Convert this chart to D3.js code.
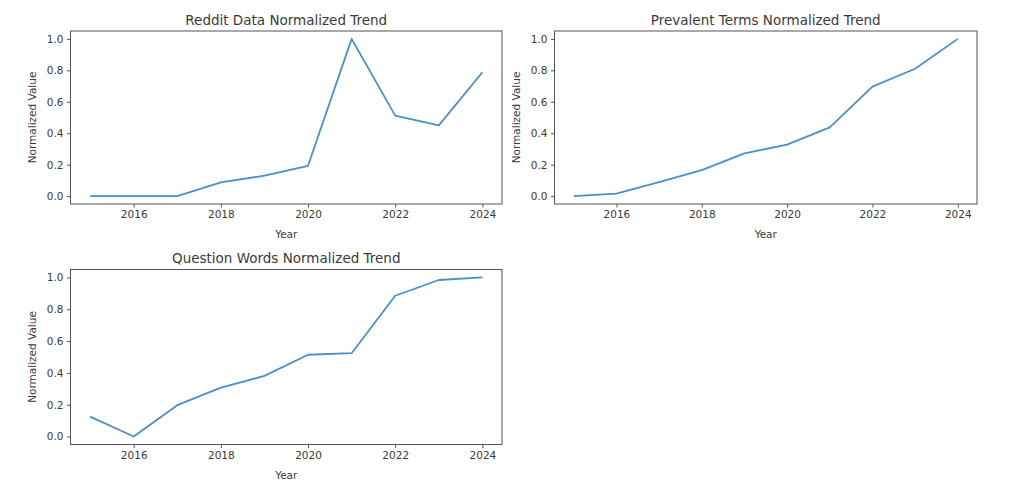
<!DOCTYPE html>
<html>
<head>
<meta charset="utf-8">
<script src="https://cdn.jsdelivr.net/npm/d3@7"></script>
<style>
  html, body { margin: 0; padding: 0; background: #fff; }
  svg { display: block; }
  text { font-family: "DejaVu Sans", sans-serif; fill: #3a3a3a; }
</style>
</head>
<body>
<svg id="chart" width="1024" height="503"></svg>
<script>
const years = [2015, 2016, 2017, 2018, 2019, 2020, 2021, 2022, 2023, 2024];
const redditValues = [0, 0, 0, 0.087, 0.13, 0.193, 1.0, 0.512, 0.45, 0.788];
const prevalentValues = [0, 0.016, 0.089, 0.165, 0.272, 0.328, 0.437, 0.696, 0.81, 1.0];
const questionValues = [0.125, 0, 0.197, 0.307, 0.381, 0.514, 0.524, 0.885, 0.984, 1.0];
const xTickValues = [2016, 2018, 2020, 2022, 2024];
const yTickValues = [0, 0.2, 0.4, 0.6, 0.8, 1.0];
const titles = ["Reddit Data Normalized Trend", "Prevalent Terms Normalized Trend", "Question Words Normalized Trend"];

const panels = [
  { title: titles[0], values: redditValues, left: 70.5, right: 502, top: 31, bottom: 204 },
  { title: titles[1], values: prevalentValues, left: 554.5, right: 977, top: 31, bottom: 204 },
  { title: titles[2], values: questionValues, left: 70.5, right: 502, top: 269.5, bottom: 444.5 }
];

const svg = d3.select("#chart");
const lineColor = "#4a8fca";
const frameColor = "#555";

panels.forEach(p => {
  const g = svg.append("g");
  const x = d3.scaleLinear().domain([2014.55, 2024.45]).range([p.left, p.right]);
  const y = d3.scaleLinear().domain([-0.05, 1.05]).range([p.bottom, p.top]);

  const xAxis = g.append("g").attr("transform", `translate(0,${p.bottom})`)
    .call(d3.axisBottom(x).tickValues(xTickValues).tickFormat(d3.format("d")).tickSize(3.5).tickPadding(3.5));
  xAxis.select(".domain").remove();
  xAxis.selectAll("line").attr("stroke", frameColor);
  xAxis.selectAll("text").style("font-size", "10.5px").attr("fill", "#3a3a3a");

  const yAxis = g.append("g").attr("transform", `translate(${p.left},0)`)
    .call(d3.axisLeft(y).tickValues(yTickValues).tickFormat(d3.format(".1f")).tickSize(3.5).tickPadding(3.5));
  yAxis.select(".domain").remove();
  yAxis.selectAll("line").attr("stroke", frameColor);
  yAxis.selectAll("text").style("font-size", "10.5px").attr("fill", "#3a3a3a");

  g.append("rect")
    .attr("x", p.left).attr("y", p.top)
    .attr("width", p.right - p.left).attr("height", p.bottom - p.top)
    .attr("fill", "none").attr("stroke", frameColor).attr("stroke-width", 1);

  const line = d3.line().x((d, i) => x(years[i])).y(d => y(d));
  g.append("path").datum(p.values)
    .attr("d", line)
    .attr("fill", "none")
    .attr("stroke", lineColor)
    .attr("stroke-width", 1.8)
    .attr("stroke-linejoin", "round");

  g.append("text")
    .attr("x", (p.left + p.right) / 2).attr("y", p.top - 6.5)
    .attr("text-anchor", "middle")
    .style("font-size", "13.5px")
    .text(p.title);

  g.append("text")
    .attr("x", (p.left + p.right) / 2).attr("y", p.bottom + 34)
    .attr("text-anchor", "middle")
    .style("font-size", "10.5px")
    .text("Year");

  g.append("text")
    .attr("transform", `translate(${p.left - 35},${(p.top + p.bottom) / 2}) rotate(-90)`)
    .attr("text-anchor", "middle")
    .style("font-size", "10.5px")
    .text("Normalized Value");
});
</script>
</body>
</html>
